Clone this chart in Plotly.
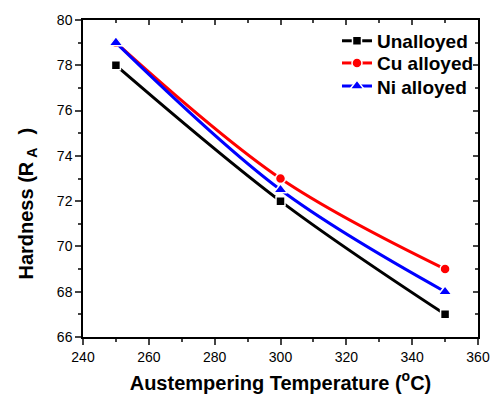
import plotly.graph_objects as go

temps = [250, 300, 350]
unalloyed = [78, 72, 67]
cu_alloyed = [79, 73, 69]
ni_alloyed = [79, 72.5, 68]

series = [
    ("Unalloyed", unalloyed, "black", "square", 9, "legend"),
    ("Cu alloyed", cu_alloyed, "red", "circle", 10, "legend2"),
    ("Ni alloyed", ni_alloyed, "blue", "triangle-up", 12, "legend3"),
]

fig = go.Figure()
for name, vals, col, sym, sz, lg in series:
    fig.add_trace(go.Scatter(
        x=temps, y=vals, name="<b>" + name + "</b>", mode="lines+markers",
        line=dict(color=col, width=3, shape="spline", smoothing=1),
        marker=dict(color=col, symbol=sym, size=sz, line=dict(color="white", width=1.5)),
        legend=lg,
    ))

font = "Liberation Sans, Arial, sans-serif"
axis_common = dict(showgrid=False, zeroline=False, showline=True, linecolor="black", linewidth=1.5)
nb = "\u00a0"

def leg(yc):
    return dict(x=0.643, y=yc, xanchor="left", yanchor="middle", bgcolor="rgba(0,0,0,0)",
                font=dict(size=19), itemwidth=30)

fig.update_layout(
    width=502, height=403,
    margin=dict(l=83, r=13, t=14, b=62),
    paper_bgcolor="white", plot_bgcolor="white",
    font=dict(family=font, size=14, color="black"),
    xaxis=dict(range=[240, 360], dtick=20, ticks="outside", ticklen=6, tickwidth=1.5,
               minor=dict(dtick=10, ticks="outside", ticklen=3, tickwidth=1.5),
               title=dict(text="<b>Austempering Temperature (<sup>o</sup>C)</b>", font=dict(size=20), standoff=12),
               **axis_common),
    yaxis=dict(range=[66, 80], dtick=2, ticks="outside", ticklen=6, tickwidth=1.5,
               minor=dict(dtick=1, ticks="outside", ticklen=3, tickwidth=1.5),
               **axis_common),
    xaxis2=dict(range=[240, 360], dtick=20, ticks="inside", ticklen=5, tickwidth=1.5,
                minor=dict(dtick=10, ticks="inside", ticklen=3, tickwidth=1.5),
                overlaying="x", side="top", showticklabels=False, **axis_common),
    yaxis2=dict(range=[66, 80], dtick=2, ticks="inside", ticklen=5, tickwidth=1.5,
                minor=dict(dtick=1, ticks="inside", ticklen=3, tickwidth=1.5),
                overlaying="y", side="right", showticklabels=False, **axis_common),
    legend=leg(0.934),
    legend2=leg(0.864),
    legend3=leg(0.791),
    showlegend=True,
)
fig.add_annotation(
    text="<b>Hardness (R<sub>" + nb + "A" + nb * 2 + "</sub>" + nb + ")</b>",
    xref="paper", yref="paper", x=-0.14, y=0.42, xanchor="center", yanchor="middle",
    textangle=-90, showarrow=False, font=dict(size=20),
)
fig.add_trace(go.Scatter(x=[None], y=[None], xaxis="x2", yaxis="y2", showlegend=False, hoverinfo="skip"))

fig.write_html("out.html")
